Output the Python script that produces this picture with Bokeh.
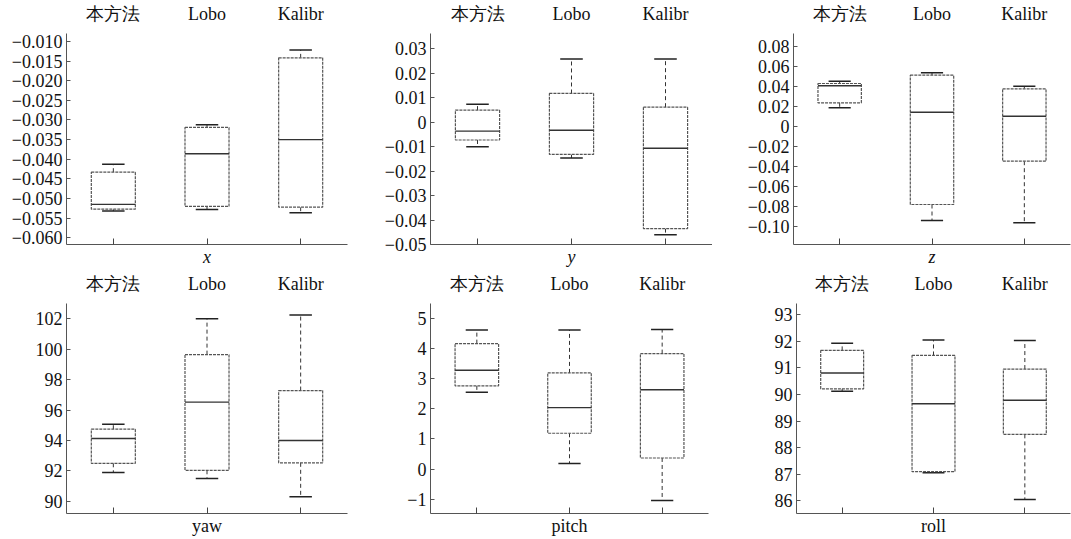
from bokeh.plotting import figure
from bokeh.models import (FactorRange, Range1d, CategoricalAxis, FixedTicker,
                          CustomJSTickFormatter, ColumnDataSource)
from bokeh.transform import dodge
from bokeh.layouts import row, column
from bokeh.embed import file_html
from bokeh.resources import INLINE

categories = ["本方法", "Lobo", "Kalibr"]

# panel x
x_low  = [-0.0532, -0.0528, -0.0536]
x_q1   = [-0.0527, -0.0520, -0.0522]
x_med  = [-0.0515, -0.0386, -0.0350]
x_q3   = [-0.0433, -0.0319, -0.0142]
x_high = [-0.0413, -0.0312, -0.0122]
x_ticks = [-0.060, -0.055, -0.050, -0.045, -0.040, -0.035, -0.030, -0.025, -0.020, -0.015, -0.010]

# panel y
y_low  = [-0.0101, -0.0147, -0.0460]
y_q1   = [-0.0073, -0.0132, -0.0435]
y_med  = [-0.0037, -0.0033, -0.0107]
y_q3   = [0.0049, 0.0117, 0.0061]
y_high = [0.0073, 0.0258, 0.0258]
y_ticks = [-0.05, -0.04, -0.03, -0.02, -0.01, 0, 0.01, 0.02, 0.03]

# panel z
z_low  = [0.0187, -0.0940, -0.0963]
z_q1   = [0.0237, -0.0780, -0.0347]
z_med  = [0.0407, 0.0143, 0.0103]
z_q3   = [0.0430, 0.0513, 0.0377]
z_high = [0.0453, 0.0537, 0.0403]
z_ticks = [-0.10, -0.08, -0.06, -0.04, -0.02, 0, 0.02, 0.04, 0.06, 0.08]

# panel yaw
yaw_low  = [91.9, 91.5, 90.3]
yaw_q1   = [92.5, 92.04, 92.53]
yaw_med  = [94.13, 96.52, 94.0]
yaw_q3   = [94.74, 99.64, 97.28]
yaw_high = [95.07, 102.0, 102.25]
yaw_ticks = [90, 92, 94, 96, 98, 100, 102]

# panel pitch
pitch_low  = [2.55, 0.19, -1.04]
pitch_q1   = [2.76, 1.19, 0.37]
pitch_med  = [3.28, 2.04, 2.63]
pitch_q3   = [4.16, 3.19, 3.83]
pitch_high = [4.61, 4.61, 4.63]
pitch_ticks = [-1, 0, 1, 2, 3, 4, 5]

# panel roll
roll_low  = [90.12, 87.06, 86.06]
roll_q1   = [90.21, 87.10, 88.50]
roll_med  = [90.80, 89.65, 89.78]
roll_q3   = [91.65, 91.46, 90.95]
roll_high = [91.92, 92.04, 92.02]
roll_ticks = [86, 87, 88, 89, 90, 91, 92, 93]

FONT = "Liberation Serif"
BOX_W = 0.47


def make_panel(label, italic, low, q1, med, q3, high, ticks, ystart, yend,
               decimals, width, height, left, right):
    p = figure(x_range=FactorRange(*categories), y_range=Range1d(ystart, yend),
               width=width, height=height, output_backend="svg",
               toolbar_location=None, min_border_left=left,
               min_border_right=right, min_border_top=33, min_border_bottom=26)
    p.outline_line_color = None
    p.xgrid.visible = False
    p.ygrid.visible = False
    p.background_fill_color = "white"
    p.border_fill_color = "white"

    # bottom axis
    bx = p.xaxis[0]
    bx.axis_label = label
    bx.axis_label_text_font = FONT
    bx.axis_label_text_font_style = "italic" if italic else "normal"
    bx.axis_label_text_font_size = "18px"
    bx.axis_label_text_color = "#111111"
    bx.axis_label_standoff = 2
    bx.major_label_text_color = None
    bx.major_label_text_font_size = "1px"
    bx.major_label_standoff = 0
    bx.major_tick_in = 6
    bx.major_tick_out = 0
    bx.major_tick_line_color = "#444444"
    bx.axis_line_color = "#555555"

    # top axis with category names
    top = CategoricalAxis()
    top.axis_line_color = None
    top.major_tick_line_color = None
    top.major_label_text_font = FONT
    top.major_label_text_font_size = "18px"
    top.major_label_text_color = "#111111"
    top.major_label_standoff = 4
    p.add_layout(top, "above")

    # y axis
    ya = p.yaxis[0]
    ya.ticker = FixedTicker(ticks=ticks, minor_ticks=[])
    ya.formatter = CustomJSTickFormatter(args=dict(d=decimals), code="""
        if (Math.abs(tick) < 1e-9) return "0";
        const s = Math.abs(tick).toFixed(d);
        return (tick < 0 ? "−" : "") + s;
    """)
    ya.major_tick_in = 4
    ya.major_tick_out = 0
    ya.major_tick_line_color = "#555555"
    ya.minor_tick_line_color = None
    ya.major_label_text_font = FONT
    ya.major_label_text_font_size = "18px"
    ya.major_label_text_color = "#111111"
    ya.major_label_standoff = 4
    ya.axis_line_color = "#555555"

    src = ColumnDataSource(dict(cat=categories, low=low, q1=q1, med=med, q3=q3, high=high))

    # whiskers
    p.segment(x0="cat", x1="cat", y0="q3", y1="high", source=src,
              line_color="#333333", line_dash="4 3", line_width=1)
    p.segment(x0="cat", x1="cat", y0="q1", y1="low", source=src,
              line_color="#333333", line_dash="4 3", line_width=1)
    # caps
    p.segment(x0=dodge("cat", -0.12, range=p.x_range), x1=dodge("cat", 0.12, range=p.x_range),
              y0="high", y1="high", source=src, line_color="#222222", line_width=1.5)
    p.segment(x0=dodge("cat", -0.12, range=p.x_range), x1=dodge("cat", 0.12, range=p.x_range),
              y0="low", y1="low", source=src, line_color="#222222", line_width=1.5)
    # boxes
    p.vbar(x="cat", bottom="q1", top="q3", width=BOX_W, source=src,
           fill_color="white", line_color="#555555", line_width=1.2, line_dash="3 1")
    # medians
    p.segment(x0=dodge("cat", -BOX_W / 2, range=p.x_range), x1=dodge("cat", BOX_W / 2, range=p.x_range),
              y0="med", y1="med", source=src, line_color="#333333", line_width=1.4)
    return p


p1 = make_panel("x", True, x_low, x_q1, x_med, x_q3, x_high, x_ticks,
                -0.0617, -0.0080, 3, 355, 270, 66, 8)
p2 = make_panel("y", True, y_low, y_q1, y_med, y_q3, y_high, y_ticks,
                -0.0500, 0.0362, 2, 357, 270, 75, 0)
p3 = make_panel("z", True, z_low, z_q1, z_med, z_q3, z_high, z_ticks,
                -0.118, 0.093, 2, 359, 270, 81, 1)
p4 = make_panel("yaw", False, yaw_low, yaw_q1, yaw_med, yaw_q3, yaw_high, yaw_ticks,
                89.2, 103.0, 0, 355, 269, 66, 8)
p5 = make_panel("pitch", False, pitch_low, pitch_q1, pitch_med, pitch_q3, pitch_high, pitch_ticks,
                -1.47, 5.49, 0, 357, 269, 75, 4)
p6 = make_panel("roll", False, roll_low, roll_q1, roll_med, roll_q3, roll_high, roll_ticks,
                85.53, 93.41, 0, 359, 269, 84, 1)

layout = column(row(p1, p2, p3), row(p4, p5, p6))

open("out.html", "w").write(file_html(layout, INLINE))
